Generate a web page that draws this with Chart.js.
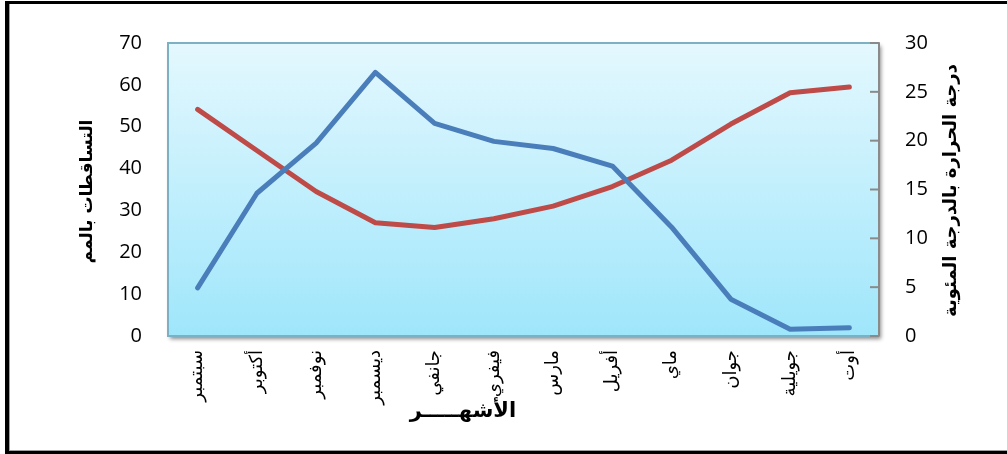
<!DOCTYPE html>
<html>
<head>
<meta charset="utf-8">
<script src="https://cdn.jsdelivr.net/npm/chart.js@4"></script>
<style>
  html, body { margin: 0; padding: 0; background: #ffffff; }
  #wrap { position: relative; width: 1007px; height: 454px; }
</style>
</head>
<body>
<div id="wrap"><canvas id="c" width="1007" height="454"></canvas></div>
<script>
// ---- data ----
const months = ["سبتمبر","أكتوبر","نوفمبر","ديسمبر","جانفي","فيفري","مارس","أفريل","ماي","جوان","جويلية","أوت"];
const precipitation = [11.5, 34.1, 46.1, 63.0, 50.8, 46.5, 44.8, 40.6, 26.0, 8.8, 1.6, 2.0];
const temperature = [23.2, 19.0, 14.8, 11.6, 11.1, 12.0, 13.3, 15.3, 18.0, 21.7, 24.9, 25.5];
const leftTitle = "التساقطات بالمم";
const rightTitle = "درجة الحرارة بالدرجة المئوية";
const xTitle = "الأشهـــــر";

const ARABIC = "'DejaVu Sans', sans-serif";
const NUM = "'Open Sans', 'Liberation Sans', sans-serif";

const decor = {
  id: 'decor',
  beforeDatasetsDraw(chart) {
    const ctx = chart.ctx, a = chart.chartArea;
    ctx.save();
    ctx.shadowColor = 'rgba(0,0,0,0.45)';
    ctx.shadowBlur = 4;
    ctx.shadowOffsetX = 2;
    ctx.shadowOffsetY = 3;
    const g = ctx.createLinearGradient(0, a.top, 0, a.bottom);
    g.addColorStop(0, '#e4f8fe');
    g.addColorStop(1, '#9fe6fb');
    ctx.fillStyle = g;
    ctx.fillRect(a.left, a.top, a.right - a.left, a.bottom - a.top);
    ctx.restore();
    ctx.save();
    ctx.strokeStyle = '#7eb0c4';
    ctx.lineWidth = 2;
    ctx.strokeRect(a.left, a.top, a.right - a.left, a.bottom - a.top);
    ctx.strokeStyle = '#8a8a8a';
    ctx.beginPath();
    ctx.moveTo(a.right, a.top);
    ctx.lineTo(a.right, a.bottom);
    ctx.stroke();
    const y2 = chart.scales.y2;
    y2.ticks.forEach(t => {
      const py = y2.getPixelForValue(t.value);
      ctx.beginPath();
      ctx.moveTo(a.right - 9, py);
      ctx.lineTo(a.right, py);
      ctx.stroke();
    });
    ctx.restore();
  },
  afterDraw(chart) {
    const ctx = chart.ctx, a = chart.chartArea;
    ctx.save();
    ctx.fillStyle = '#000';
    ctx.fillRect(5, 1, 4, 453);
    ctx.fillRect(5, 1, 1002, 3);
    ctx.fillRect(5, 451, 1002, 3);
    ctx.fillStyle = '#a0a0a0';
    ctx.fillRect(9, 4, 1, 447);
    ctx.fillRect(9, 450, 998, 1);
    ctx.fillStyle = '#000';
    ctx.font = "bold 17px " + ARABIC;
    ctx.textAlign = 'center';
    ctx.textBaseline = 'middle';
    const cy = (a.top + a.bottom) / 2;
    ctx.save();
    ctx.translate(88, cy + 2);
    ctx.rotate(-Math.PI / 2);
    ctx.fillText(leftTitle, 0, 0);
    ctx.restore();
    ctx.save();
    ctx.font = "bold 18px " + ARABIC;
    ctx.translate(951, cy + 1);
    ctx.rotate(-Math.PI / 2);
    ctx.fillText(rightTitle, 0, 0);
    ctx.restore();
    ctx.font = "bold 21px " + ARABIC;
    ctx.fillText(xTitle, 463, 412);
    ctx.restore();
  }
};

new Chart(document.getElementById('c'), {
  type: 'line',
  data: {
    labels: months,
    datasets: [
      { label: 'precip', data: precipitation, yAxisID: 'y', borderColor: '#4a7ebb', borderWidth: 5,
        pointRadius: 0, tension: 0, borderCapStyle: 'round', borderJoinStyle: 'round', fill: false },
      { label: 'temp', data: temperature, yAxisID: 'y2', borderColor: '#be4b48', borderWidth: 5,
        pointRadius: 0, tension: 0, borderCapStyle: 'round', borderJoinStyle: 'round', fill: false }
    ]
  },
  options: {
    responsive: false,
    animation: false,
    devicePixelRatio: 1,
    layout: { padding: { top: 43, left: 0, right: 0, bottom: 0 } },
    plugins: { legend: { display: false }, tooltip: { enabled: false }, title: { display: false } },
    scales: {
      x: {
        offset: true,
        grid: { display: false, drawTicks: false },
        border: { display: false },
        ticks: { autoSkip: false, minRotation: 90, maxRotation: 90, padding: 14,
                 color: '#000', font: { family: ARABIC, size: 18 } },
        afterFit(s) { s.height = 118; }
      },
      y: {
        position: 'left', min: 0, max: 70,
        grid: { display: false, drawTicks: false },
        border: { display: false },
        ticks: { stepSize: 10, padding: 26, color: '#000', font: { family: NUM, size: 20 } },
        afterFit(s) { s.width = 168; }
      },
      y2: {
        position: 'right', min: 0, max: 30,
        grid: { display: false, drawTicks: false },
        border: { display: false },
        ticks: { stepSize: 5, padding: 26, color: '#000', font: { family: NUM, size: 20 } },
        afterFit(s) { s.width = 128; }
      }
    }
  },
  plugins: [decor]
});
</script>
</body>
</html>
